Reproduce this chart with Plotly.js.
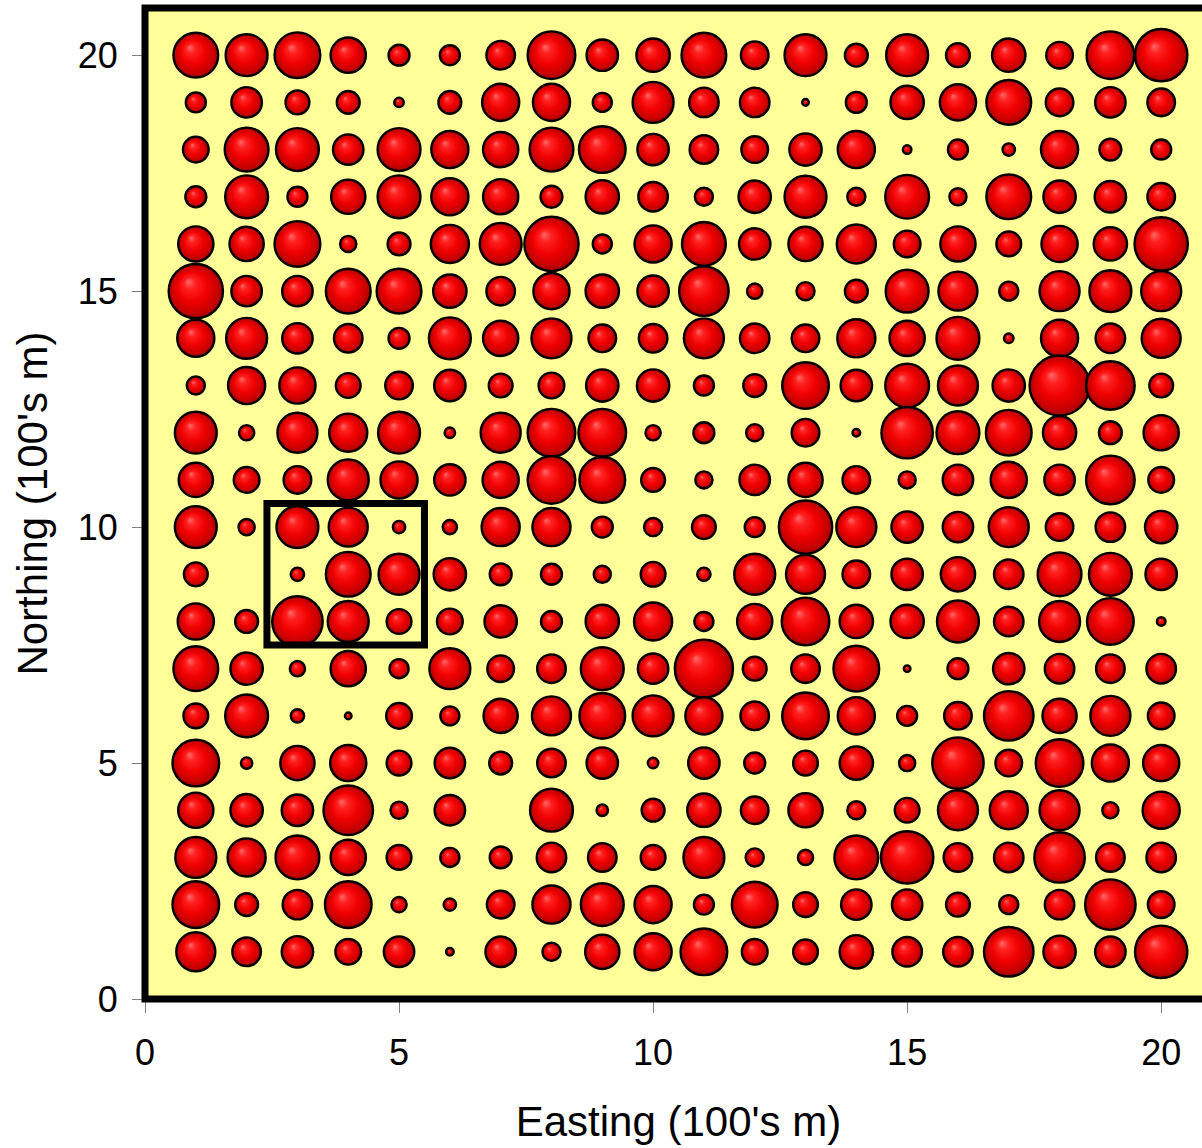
<!DOCTYPE html>
<html>
<head>
<meta charset="utf-8">
<script src="https://cdn.plot.ly/plotly-3.0.1.min.js"></script>
<style>
  html, body { margin: 0; padding: 0; overflow: hidden; background: #ffffff; }
  #chart { width: 1230px; height: 1148px; }
</style>
</head>
<body>
<div id="chart"></div>
<script>
// Grid coordinates (100's m)
const easting = [1,2,3,4,5,6,7,8,9,10,11,12,13,14,15,16,17,18,19,20];
const northing = [20,19,18,17,16,15,14,13,12,11,10,9,8,7,6,5,4,3,2,1];

// Bubble values for each northing row, west to east (0 = no sample)
const r20 = [47,44,48,37,22,21,30,50,33,35,47,29,44,24,44,25,35,28,50,55];
const r19 = [21,32,25,24,10,24,39,39,20,43,31,31,7,22,35,38,47,29,32,29];
const r18 = [27,46,45,32,45,39,37,46,49,33,30,28,34,39,9,21,13,39,23,21];
const r17 = [22,45,21,36,45,39,37,23,35,31,19,34,44,19,46,18,47,34,33,29];
const r16 = [37,36,48,17,24,40,44,57,20,39,46,33,36,41,28,37,26,38,35,56];
const r15 = [57,32,32,47,47,35,30,38,35,33,52,16,19,24,45,41,20,42,44,42];
const r14 = [39,43,32,30,22,44,37,42,29,30,42,31,29,40,37,45,10,39,31,41];
const r13 = [19,39,38,26,29,33,25,27,34,34,21,24,49,33,46,42,34,63,51,25];
const r12 = [44,16,42,40,44,11,42,50,50,16,22,18,29,8,54,45,48,35,24,37];
const r11 = [36,27,29,43,39,33,38,50,48,25,18,32,36,29,18,32,38,32,51,27];
const r10 = [44,17,44,41,13,15,40,40,22,19,25,21,56,42,33,32,42,29,31,34];
const r9  = [25,0,14,47,43,34,23,22,18,26,14,43,41,29,33,36,31,46,45,33];
const r8  = [38,24,53,43,26,27,34,22,35,40,20,37,50,35,35,44,31,43,49,9];
const r7  = [47,34,16,37,20,43,28,30,45,32,61,25,30,48,7,22,33,31,30,31];
const r6  = [26,45,14,7,27,20,36,41,48,43,39,30,49,39,21,29,52,36,42,28];
const r5  = [49,12,36,38,26,32,24,30,33,11,33,22,26,35,17,54,28,50,39,38];
const r4  = [37,34,33,52,18,32,0,45,12,24,35,29,36,19,26,42,40,42,17,39];
const r3  = [43,40,46,37,26,20,23,31,30,26,43,19,16,46,55,30,31,53,30,31];
const r2  = [49,24,31,49,16,13,29,40,45,39,21,48,26,32,32,25,20,31,53,28];
const r1  = [41,30,33,27,32,8,32,19,36,39,49,27,26,35,31,31,52,34,32,55];

// Highlighted block (100's m)
const boxEasting = [2.4, 5.5];
const boxNorthing = [7.5, 10.5];

const rows = [r20,r19,r18,r17,r16,r15,r14,r13,r12,r11,r10,r9,r8,r7,r6,r5,r4,r3,r2,r1];

const xs = [], ys = [], vs = [];
rows.forEach((row, ri) => {
  row.forEach((v, ci) => {
    if (v > 0) { xs.push(easting[ci]); ys.push(northing[ri]); vs.push(v); }
  });
});

const font = "'Liberation Sans', Arial, Helvetica, sans-serif";

const trace = {
  type: 'scatter',
  mode: 'markers',
  x: xs,
  y: ys,
  marker: {
    size: vs,
    sizemode: 'diameter',
    sizeref: 1.05,
    color: '#b00000',
    gradient: { type: 'radial', color: '#ff6060' },
    line: { color: '#000000', width: 2.4 },
    opacity: 1
  },
  hoverinfo: 'x+y',
  showlegend: false
};

const layout = {
  width: 1230,
  height: 1148,
  margin: { l: 145, r: 18, t: 8, b: 149 },
  paper_bgcolor: '#ffffff',
  plot_bgcolor: '#ffff99',
  font: { family: font, color: '#000000' },
  xaxis: {
    range: [0, 21],
    tickvals: [0, 5, 10, 15, 20],
    ticks: 'outside',
    ticklen: 13,
    tickwidth: 1,
    tickcolor: '#808080',
    ticklabelstandoff: 9,
    showgrid: false,
    zeroline: false,
    showline: false,
    tickfont: { family: font, size: 36, color: '#000000' },
    title: { text: "Easting (100's m)", font: { family: font, size: 42, color: '#000000' }, standoff: 34 }
  },
  yaxis: {
    range: [0, 21],
    tickvals: [0, 5, 10, 15, 20],
    ticks: 'outside',
    ticklen: 12,
    tickwidth: 1,
    tickcolor: '#808080',
    ticklabelstandoff: 7,
    showgrid: false,
    zeroline: false,
    showline: false,
    tickfont: { family: font, size: 36, color: '#000000' },
    title: { text: "Northing (100's m)", font: { family: font, size: 42, color: '#000000' }, standoff: 17 }
  },
  shapes: [
    { type: 'rect', xref: 'paper', yref: 'paper', x0: 0, x1: 1, y0: 0, y1: 1,
      line: { color: '#000000', width: 7 }, fillcolor: 'rgba(0,0,0,0)', layer: 'above' },
    { type: 'rect', xref: 'x', yref: 'y', x0: boxEasting[0], x1: boxEasting[1], y0: boxNorthing[0], y1: boxNorthing[1],
      line: { color: '#000000', width: 7 }, fillcolor: 'rgba(0,0,0,0)', layer: 'above' }
  ]
};

function shadeSpheres() {
  const SVGNS = 'http://www.w3.org/2000/svg';
  document.querySelectorAll('#chart radialGradient').forEach(g => {
    g.setAttribute('cx', '0.5');
    g.setAttribute('cy', '0.5');
    g.setAttribute('r', '0.5');
    g.setAttribute('fx', '0.36');
    g.setAttribute('fy', '0.32');
    while (g.firstChild) g.removeChild(g.firstChild);
    [[0, '#ff6a6a'], [0.22, '#ff2020'], [0.55, '#f00000'], [0.85, '#c80000'], [1, '#a00000']].forEach(s => {
      const st = document.createElementNS(SVGNS, 'stop');
      st.setAttribute('offset', (s[0] * 100) + '%');
      st.setAttribute('stop-color', s[1]);
      g.appendChild(st);
    });
  });
}

const gd = document.getElementById('chart');
Plotly.newPlot(gd, [trace], layout, { staticPlot: true, displayModeBar: false }).then(() => {
  shadeSpheres();
  gd.on && gd.on('plotly_afterplot', shadeSpheres);
});
</script>
</body>
</html>
